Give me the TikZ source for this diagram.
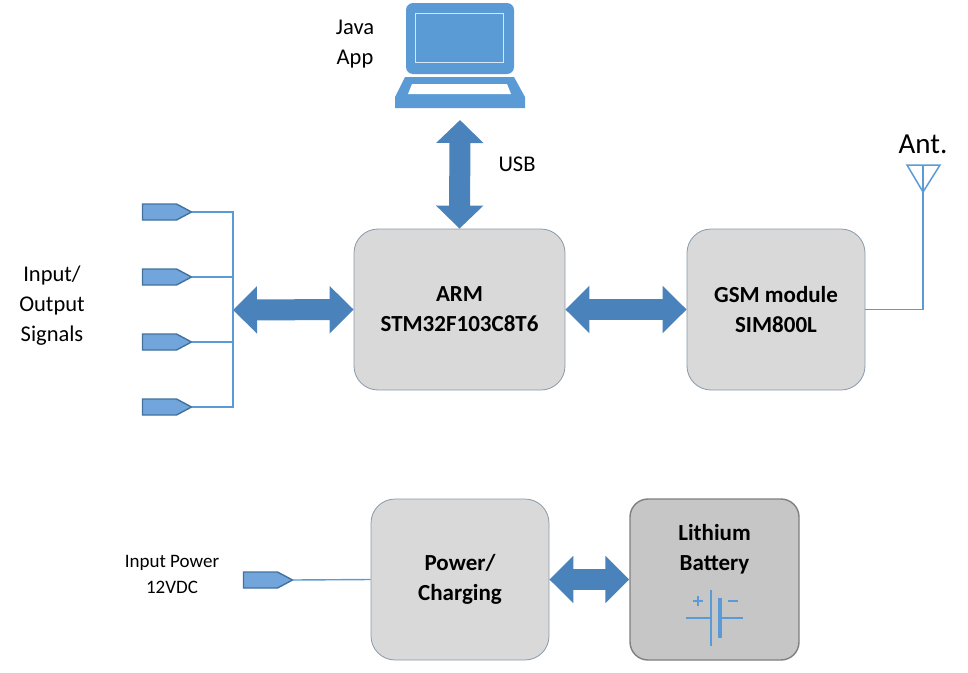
\documentclass[tikz,border=0pt]{standalone}
\usepackage{fontspec}
\setmainfont{Carlito}
\usetikzlibrary{arrows.meta,shapes.symbols}
\definecolor{arrowblue}{HTML}{4A82BB}
\definecolor{lineblue}{HTML}{5B9BD5}
\definecolor{pentfill}{HTML}{72A5DC}
\definecolor{pentline}{HTML}{41719C}
\definecolor{boxfill}{HTML}{D9D9D9}
\definecolor{boxline}{HTML}{8A99A8}
\definecolor{batfill}{HTML}{C6C6C6}
\definecolor{batline}{HTML}{7F7F7F}
\tikzset{
  x=1pt,y=-1pt,
  block/.style={draw=boxline,fill=boxfill,line width=0.8pt,rounded corners=24pt,inner sep=0pt,align=center,
    font=\fontsize{23}{30}\selectfont\bfseries},
  batblock/.style={block,draw=batline,fill=batfill,line width=1.4pt,rounded corners=18pt},
  fatarrow/.style={draw=arrowblue,line width=21pt,{Triangle[length=24pt,width=46pt]}-{Triangle[length=24pt,width=46pt]}},
  fatarrowv/.style={fatarrow,{Triangle[length=23pt,width=46pt]}-{Triangle[length=23pt,width=46pt]}},
  wire/.style={draw=lineblue,line width=1.4pt},
  pent/.style={shape=signal,signal to=east,signal pointer angle=56,draw=pentline,fill=pentfill,line width=1.4pt,
    minimum width=49pt,minimum height=16pt,inner sep=0pt,outer sep=0pt},
  label/.style={inner sep=0pt,align=center,font=\fontsize{22.5}{30}\selectfont},
  small/.style={label,font=\fontsize{19}{26}\selectfont},
  lap/.style={fill=lineblue,draw=none},
}
\begin{document}
\begin{tikzpicture}
\useasboundingbox (0,0) rectangle (968,672);
% laptop
\path[lap,rounded corners=7pt] (406,74) -- (406,3) -- (514,3) -- (514,74) -- cycle;
\path[draw=white!75!lineblue,line width=1pt] (415.5,13.5) rectangle (503.5,62);
\path[lap] (405,77) -- (514,77) -- (525,97) -- (525,108) -- (395,108) -- (395,97) -- cycle;
\path[fill=white] (412,84) -- (507,84) -- (511,94) -- (408,94) -- cycle;
\node[label] at (355,44.5) {Java\\App};
\coordinate (laptop) at (460,120);
% blocks
\node[block,minimum width=211pt,minimum height=161pt] (arm) at (459.5,309.5) {ARM\\STM32F103C8T6};
\node[block,minimum width=178pt,minimum height=161pt] (gsm) at (776,309.5) {GSM module\\SIM800L};
\node[block,minimum width=178pt,minimum height=161pt] (pwr) at (460,579.5) {Power/\\Charging};
\node[batblock,minimum width=169pt,minimum height=161pt] (bat) at (714.5,579.5) {};
\node[label,font=\fontsize{23}{30}\selectfont\bfseries] at (714.5,549) {Lithium\\Battery};
% battery icon
\draw[wire,line width=1.3pt] (711,590) -- (711,646) (686,618) -- (711,618) (721,618) -- (743,618)
  (698,596) -- (698,606) (693,601) -- (703,601) (728,601) -- (738,601);
\fill[lineblue] (717.5,598) rectangle (721.5,638);
% block arrows
\coordinate (bus) at (233,310);
\draw[fatarrowv] (laptop) -- (arm.north);
\draw[fatarrow] (bus) -- (arm.west);
\draw[fatarrow] (arm.east) -- (gsm.west);
\draw[fatarrow] (pwr.east) -- (bat.west);
\node[label] at (517,164) {USB};
% IO
\node[pent] (s1) at (159.5,212) {};
\node[pent] (s2) at (159.5,277) {};
\node[pent] (s3) at (159.5,342) {};
\node[pent] (s4) at (159.5,407) {};
\coordinate (t1) at (233,212);
\coordinate (t4) at (233,407);
\draw[wire] (s1.east) -- (t1) -- (t4) -- (s4.east);
\draw[wire] (s2.east) -- (233,277);
\draw[wire] (s3.east) -- (233,342);
\node[label] at (52,305.5) {Input/\\Output\\Signals};
% power input
\node[pent] (pin) at (260.5,580) {};
\draw[wire] (pin.east) -- (pwr.west);
\node[small] at (172,574) {Input Power\\12VDC};
% antenna
\coordinate (anttop) at (923,165);
\coordinate (anttip) at (923,192);
\draw[wire,line width=1.5pt] (gsm.east) -| (anttop);
\draw[wire,line width=1.5pt,line join=miter] (907,165) -- (940,165) -- (anttip) -- cycle;
\node[label,font=\fontsize{29}{30}\selectfont] at (923,144) {Ant.};
\end{tikzpicture}
\end{document}
